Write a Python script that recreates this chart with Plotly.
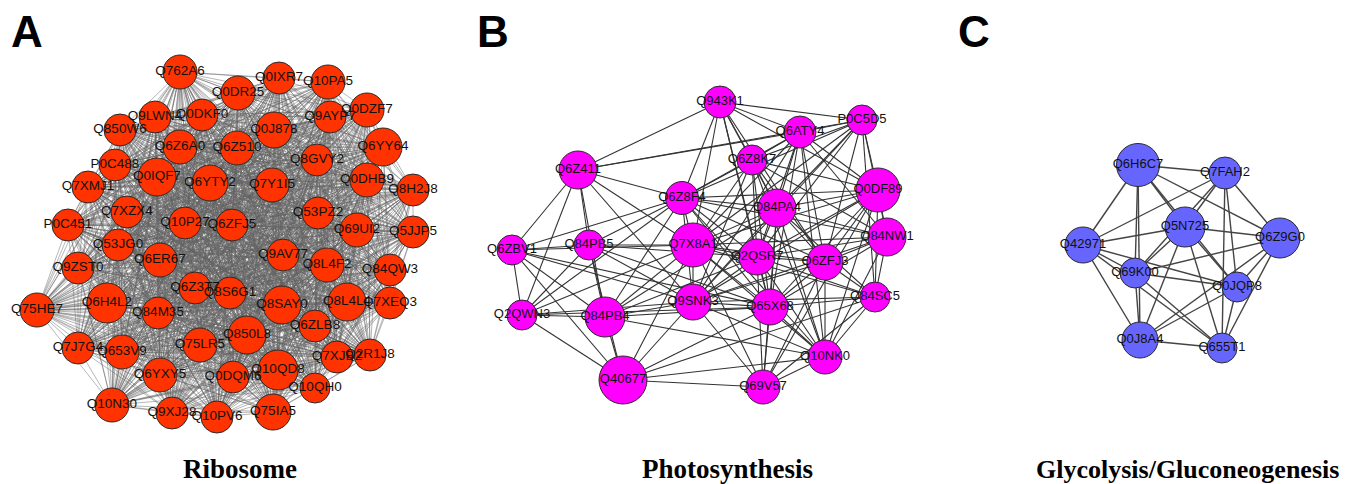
import itertools
import plotly.graph_objects as go

# ---------------- Panel A: Ribosome ----------------
a_names = ["Q762A6", "Q9LWN4", "Q0DKF0", "Q850W6", "Q6Z6A0", "P0C488", "Q0IQF7", "Q7XMJ1",
           "Q7XZX4", "Q10P27", "P0C451", "Q53JG0", "Q6YTY2", "Q0DR25", "Q0IXR7", "Q10PA5",
           "Q0DZF7", "Q9AYP7", "Q0J878", "Q6Z510", "Q6YY64", "Q8GVY2", "Q0DHB9", "Q8H2J8",
           "Q7Y1I5", "Q53PZ2", "Q6ZFJ5", "Q69UI2", "Q5JJP5", "Q6ER67", "Q9ZST0", "Q6Z3T7",
           "Q6H4L2", "Q75HE7", "Q84M35", "Q7J7G4", "Q653V9", "Q75LR5", "Q6YXY5", "Q10N30",
           "Q9XJ28", "Q10PV6", "Q9AV77", "Q8L4F2", "Q84QW3", "Q8S6G1", "Q8SAY0", "Q8L4L4",
           "Q7XEQ3", "Q6ZLB8", "Q850L8", "Q7XJB2", "Q2R1J8", "Q10QD8", "Q0DQM6", "Q10QH0",
           "Q75IA5"]
a_x = [180, 155, 202, 120, 180, 115, 157, 88,
       127, 185, 68, 118, 210, 238, 279, 328,
       367, 330, 274, 237, 383, 317, 367, 413,
       272, 318, 232, 357, 413, 160, 78, 195,
       107, 37, 158, 78, 122, 200, 160, 112,
       172, 217, 283, 327, 390, 230, 282, 347,
       390, 315, 247, 337, 370, 278, 233, 315,
       273]
a_y = [72, 117, 115, 130, 147, 165, 177, 187,
       212, 223, 225, 245, 183, 93, 78, 82,
       110, 117, 130, 148, 147, 160, 180, 190,
       185, 213, 225, 230, 232, 260, 268, 288,
       303, 310, 313, 348, 352, 345, 375, 405,
       413, 417, 255, 265, 270, 293, 305, 302,
       303, 326, 335, 357, 355, 370, 377, 388,
       412]
a_size = [34, 32, 32, 32, 34, 32, 38, 32,
          32, 32, 32, 32, 36, 34, 32, 34,
          34, 32, 36, 34, 38, 32, 34, 32,
          34, 32, 32, 34, 32, 34, 32, 32,
          40, 34, 32, 32, 34, 34, 34, 34,
          32, 32, 32, 34, 32, 32, 38, 38,
          32, 32, 38, 32, 32, 40, 32, 30,
          36]
# the ribosome module is a fully connected cluster
a_edges = list(itertools.combinations(a_names, 2))

# ---------------- Panel B: Photosynthesis ----------------
b_names = ["Q943K1", "P0C5D5", "Q6ATY4", "Q6Z8K7", "Q6Z411", "Q6Z8F4", "Q0DF89", "Q84PA4",
           "Q84NW1", "Q6ZBV1", "Q84PB5", "Q7X8A1", "Q2QSR7", "Q6ZFJ3", "Q2QWN3", "Q84PB4",
           "Q9SNK3", "Q65X68", "Q84SC5", "Q40677", "Q10NK0", "Q69V57"]
b_x = [720, 862, 800, 752, 578, 682, 878, 777,
       887, 512, 589, 693, 757, 825, 522, 605,
       693, 770, 875, 623, 825, 763]
b_y = [102, 120, 132, 160, 170, 198, 190, 208,
       237, 250, 245, 245, 257, 262, 315, 317,
       302, 307, 297, 380, 357, 387]
b_size = [32, 30, 32, 30, 38, 33, 44, 38,
          38, 30, 30, 44, 36, 36, 30, 40,
          36, 36, 30, 48, 34, 34]
b_edges = [
    ("Q943K1", "P0C5D5"), ("Q943K1", "Q6ATY4"), ("Q943K1", "Q6Z8K7"), ("Q943K1", "Q6Z411"),
    ("Q943K1", "Q6Z8F4"), ("Q943K1", "Q84PA4"), ("Q943K1", "Q7X8A1"), ("Q943K1", "Q2QSR7"),
    ("Q943K1", "Q65X68"), ("Q943K1", "Q6ZFJ3"), ("Q943K1", "Q0DF89"),
    ("P0C5D5", "Q6ATY4"), ("P0C5D5", "Q6Z8K7"), ("P0C5D5", "Q6Z411"), ("P0C5D5", "Q0DF89"),
    ("P0C5D5", "Q84PA4"), ("P0C5D5", "Q84NW1"), ("P0C5D5", "Q6ZFJ3"), ("P0C5D5", "Q2QSR7"),
    ("P0C5D5", "Q7X8A1"), ("P0C5D5", "Q6Z8F4"), ("P0C5D5", "Q9SNK3"), ("P0C5D5", "Q84SC5"),
    ("Q6ATY4", "Q6Z8K7"), ("Q6ATY4", "Q6Z8F4"), ("Q6ATY4", "Q84PA4"), ("Q6ATY4", "Q0DF89"),
    ("Q6ATY4", "Q7X8A1"), ("Q6ATY4", "Q2QSR7"), ("Q6ATY4", "Q6ZFJ3"), ("Q6ATY4", "Q65X68"),
    ("Q6ATY4", "Q84NW1"), ("Q6ATY4", "Q9SNK3"), ("Q6ATY4", "Q10NK0"), ("Q6ATY4", "Q6Z411"),
    ("Q6Z8K7", "Q6Z8F4"), ("Q6Z8K7", "Q84PA4"), ("Q6Z8K7", "Q7X8A1"), ("Q6Z8K7", "Q2QSR7"),
    ("Q6Z8K7", "Q6ZFJ3"), ("Q6Z8K7", "Q0DF89"), ("Q6Z8K7", "Q65X68"), ("Q6Z8K7", "Q84NW1"),
    ("Q6Z8K7", "Q9SNK3"), ("Q6Z8K7", "Q10NK0"),
    ("Q6Z411", "Q6Z8F4"), ("Q6Z411", "Q6ZBV1"), ("Q6Z411", "Q84PB5"), ("Q6Z411", "Q84PB4"),
    ("Q6Z411", "Q7X8A1"), ("Q6Z411", "Q2QWN3"), ("Q6Z411", "Q9SNK3"),
    ("Q6Z8F4", "Q84PA4"), ("Q6Z8F4", "Q0DF89"), ("Q6Z8F4", "Q7X8A1"), ("Q6Z8F4", "Q84PB5"),
    ("Q6Z8F4", "Q6ZBV1"), ("Q6Z8F4", "Q2QWN3"), ("Q6Z8F4", "Q84PB4"), ("Q6Z8F4", "Q9SNK3"),
    ("Q6Z8F4", "Q2QSR7"), ("Q6Z8F4", "Q65X68"), ("Q6Z8F4", "Q6ZFJ3"), ("Q6Z8F4", "Q84NW1"),
    ("Q6Z8F4", "Q10NK0"),
    ("Q0DF89", "Q84PA4"), ("Q0DF89", "Q84NW1"), ("Q0DF89", "Q7X8A1"), ("Q0DF89", "Q2QSR7"),
    ("Q0DF89", "Q6ZFJ3"), ("Q0DF89", "Q65X68"), ("Q0DF89", "Q9SNK3"), ("Q0DF89", "Q84SC5"),
    ("Q0DF89", "Q10NK0"), ("Q0DF89", "Q69V57"),
    ("Q84PA4", "Q84NW1"), ("Q84PA4", "Q7X8A1"), ("Q84PA4", "Q2QSR7"), ("Q84PA4", "Q6ZFJ3"),
    ("Q84PA4", "Q65X68"), ("Q84PA4", "Q9SNK3"), ("Q84PA4", "Q84SC5"), ("Q84PA4", "Q10NK0"),
    ("Q84PA4", "Q69V57"), ("Q84PA4", "Q84PB4"),
    ("Q84NW1", "Q7X8A1"), ("Q84NW1", "Q2QSR7"), ("Q84NW1", "Q6ZFJ3"), ("Q84NW1", "Q84SC5"),
    ("Q84NW1", "Q65X68"), ("Q84NW1", "Q10NK0"), ("Q84NW1", "Q9SNK3"),
    ("Q6ZBV1", "Q84PB5"), ("Q6ZBV1", "Q7X8A1"), ("Q6ZBV1", "Q2QWN3"), ("Q6ZBV1", "Q84PB4"),
    ("Q6ZBV1", "Q40677"), ("Q6ZBV1", "Q9SNK3"), ("Q6ZBV1", "Q65X68"),
    ("Q84PB5", "Q7X8A1"), ("Q84PB5", "Q2QWN3"), ("Q84PB5", "Q84PB4"), ("Q84PB5", "Q9SNK3"),
    ("Q84PB5", "Q40677"), ("Q84PB5", "Q65X68"), ("Q84PB5", "Q2QSR7"),
    ("Q7X8A1", "Q2QSR7"), ("Q7X8A1", "Q6ZFJ3"), ("Q7X8A1", "Q9SNK3"), ("Q7X8A1", "Q65X68"),
    ("Q7X8A1", "Q84PB4"), ("Q7X8A1", "Q2QWN3"), ("Q7X8A1", "Q40677"), ("Q7X8A1", "Q84SC5"),
    ("Q7X8A1", "Q10NK0"), ("Q7X8A1", "Q69V57"),
    ("Q2QSR7", "Q6ZFJ3"), ("Q2QSR7", "Q9SNK3"), ("Q2QSR7", "Q65X68"), ("Q2QSR7", "Q84SC5"),
    ("Q2QSR7", "Q10NK0"), ("Q2QSR7", "Q69V57"), ("Q2QSR7", "Q84PB4"),
    ("Q6ZFJ3", "Q9SNK3"), ("Q6ZFJ3", "Q65X68"), ("Q6ZFJ3", "Q84SC5"), ("Q6ZFJ3", "Q10NK0"),
    ("Q6ZFJ3", "Q69V57"),
    ("Q2QWN3", "Q84PB4"), ("Q2QWN3", "Q40677"), ("Q2QWN3", "Q9SNK3"), ("Q2QWN3", "Q65X68"),
    ("Q84PB4", "Q40677"), ("Q84PB4", "Q9SNK3"), ("Q84PB4", "Q65X68"), ("Q84PB4", "Q10NK0"),
    ("Q9SNK3", "Q65X68"), ("Q9SNK3", "Q84SC5"), ("Q9SNK3", "Q40677"), ("Q9SNK3", "Q10NK0"),
    ("Q9SNK3", "Q69V57"),
    ("Q65X68", "Q84SC5"), ("Q65X68", "Q40677"), ("Q65X68", "Q10NK0"), ("Q65X68", "Q69V57"),
    ("Q84SC5", "Q10NK0"), ("Q84SC5", "Q69V57"),
    ("Q40677", "Q10NK0"), ("Q40677", "Q69V57"), ("Q40677", "Q84SC5"),
    ("Q10NK0", "Q69V57"),
]

# ---------------- Panel C: Glycolysis/Gluconeogenesis ----------------
c_names = ["Q6H6C7", "Q7FAH2", "Q5N725", "Q6Z9G0", "Q42971", "Q69K00", "Q0JQP8", "Q0J8A4", "Q655T1"]
c_x = [1138, 1225, 1185, 1280, 1083, 1135, 1237, 1140, 1222]
c_y = [165, 173, 227, 238, 245, 273, 287, 340, 348]
c_size = [43, 32, 40, 40, 36, 30, 30, 36, 30]
c_edges = [
    ("Q6H6C7", "Q7FAH2"), ("Q6H6C7", "Q42971"), ("Q6H6C7", "Q69K00"), ("Q6H6C7", "Q5N725"),
    ("Q6H6C7", "Q6Z9G0"), ("Q6H6C7", "Q0J8A4"), ("Q6H6C7", "Q0JQP8"),
    ("Q7FAH2", "Q42971"), ("Q7FAH2", "Q5N725"), ("Q7FAH2", "Q69K00"), ("Q7FAH2", "Q6Z9G0"),
    ("Q7FAH2", "Q0JQP8"), ("Q7FAH2", "Q655T1"),
    ("Q5N725", "Q42971"), ("Q5N725", "Q6Z9G0"), ("Q5N725", "Q69K00"), ("Q5N725", "Q0JQP8"),
    ("Q5N725", "Q655T1"), ("Q5N725", "Q0J8A4"),
    ("Q42971", "Q69K00"), ("Q42971", "Q0J8A4"), ("Q42971", "Q0JQP8"), ("Q42971", "Q655T1"),
    ("Q6Z9G0", "Q69K00"), ("Q6Z9G0", "Q0JQP8"), ("Q6Z9G0", "Q655T1"), ("Q6Z9G0", "Q0J8A4"),
    ("Q69K00", "Q0J8A4"), ("Q69K00", "Q655T1"), ("Q69K00", "Q0JQP8"),
    ("Q0JQP8", "Q0J8A4"), ("Q0JQP8", "Q655T1"),
    ("Q0J8A4", "Q655T1"),
]

panel_letters = ["A", "B", "C"]
panel_titles = ["Ribosome", "Photosynthesis", "Glycolysis/Gluconeogenesis"]

W, H = 1351, 484
OFF = 8  # page body margin: shift axis ranges so data units equal window pixels


def edge_trace(names, xs, ys, edges, color, width):
    pos = {n: (x, y) for n, x, y in zip(names, xs, ys)}
    ex, ey = [], []
    for s, t in edges:
        ex += [pos[s][0], pos[t][0], None]
        ey += [pos[s][1], pos[t][1], None]
    return go.Scatter(x=ex, y=ey, mode="lines", line=dict(color=color, width=width),
                      hoverinfo="skip", showlegend=False)


def node_trace(names, xs, ys, sizes, fill, fsize):
    return go.Scatter(x=xs, y=ys, mode="markers+text", text=names, textposition="middle center",
                      textfont=dict(family="Arial", size=fsize, color="#111111"),
                      marker=dict(size=sizes, color=fill, opacity=1,
                                  line=dict(color="#2a2a2a", width=1)),
                      hovertext=names, hoverinfo="text", showlegend=False)


fig = go.Figure()
fig.add_trace(edge_trace(a_names, a_x, a_y, a_edges, "rgba(100,100,100,0.85)", 0.55))
fig.add_trace(edge_trace(b_names, b_x, b_y, b_edges, "#333333", 1.1))
fig.add_trace(edge_trace(c_names, c_x, c_y, c_edges, "#444444", 1.4))
fig.add_trace(node_trace(a_names, a_x, a_y, a_size, "#FF3300", 13.5))
fig.add_trace(node_trace(b_names, b_x, b_y, b_size, "#FF00FF", 13))
fig.add_trace(node_trace(c_names, c_x, c_y, c_size, "#6666FF", 13))

letter_x = [27, 493, 974]
title_x = [240, 727, 1187]
title_size = [27, 27, 26]
for lx, L in zip(letter_x, panel_letters):
    fig.add_annotation(x=lx, y=31, text="<b>%s</b>" % L, showarrow=False, xref="x", yref="y",
                       font=dict(family="Arial", size=44, color="black"))
for tx, T, ts in zip(title_x, panel_titles, title_size):
    fig.add_annotation(x=tx, y=469, text="<b>%s</b>" % T, showarrow=False, xref="x", yref="y",
                       font=dict(family="Liberation Serif", size=ts, color="black"))

fig.update_layout(
    width=W, height=H, margin=dict(l=0, r=0, t=0, b=0),
    paper_bgcolor="white", plot_bgcolor="white",
    xaxis=dict(range=[OFF, W + OFF], visible=False, fixedrange=True),
    yaxis=dict(range=[H + OFF, OFF], visible=False, fixedrange=True),
)
fig.write_html("out.html")
